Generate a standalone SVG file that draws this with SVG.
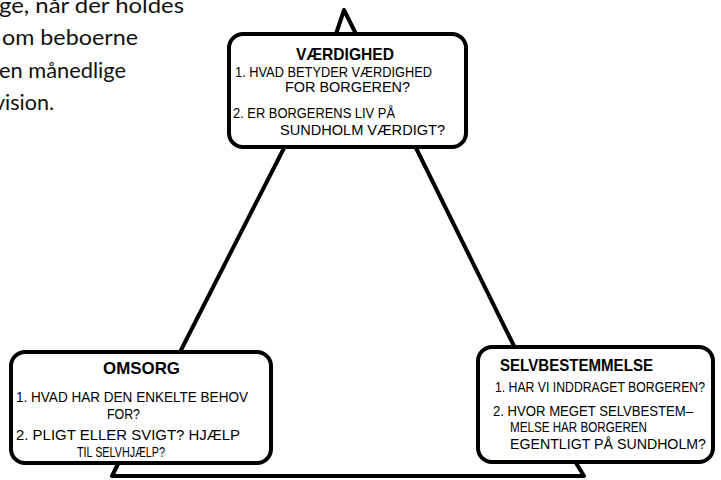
<svg xmlns="http://www.w3.org/2000/svg" width="721" height="480" viewBox="0 0 721 480">
<style>
.box{fill:#fff;stroke:#000;stroke-width:4;stroke-linejoin:round}
.ln{fill:none;stroke:#000;stroke-width:4;stroke-linecap:round;stroke-linejoin:round}
.t{font-family:"Liberation Sans",Arial,sans-serif;font-size:14px;fill:#000}
.h{font-family:"Liberation Sans",Arial,sans-serif;font-size:17px;font-weight:bold;fill:#000}
.p{font-family:Lato,"Open Sans",sans-serif;font-size:21px;fill:#111}
</style>
<rect width="721" height="480" fill="#fff"/>
<g id="paragraph">
<text class="p" x="-1" y="13" textLength="185" lengthAdjust="spacingAndGlyphs">ge, når der holdes</text>
<text class="p" x="2" y="45" textLength="136" lengthAdjust="spacingAndGlyphs">om beboerne</text>
<text class="p" x="-1" y="78" textLength="127" lengthAdjust="spacingAndGlyphs">en månedlige</text>
<text class="p" x="-6" y="110" textLength="60" lengthAdjust="spacingAndGlyphs">vision.</text>
</g>
<g id="connectors">
<path class="ln" d="M336,34 L344,10 L356,34"/>
<path class="ln" d="M284,148 L180,352"/>
<path class="ln" d="M416,148 L515,348"/>
<path class="ln" d="M118,464 L112,476 L584,476 L576,463"/>
</g>
<g id="vaerdighed">
<rect class="box" x="229" y="34" width="237" height="113" rx="14"/>
<text class="h" x="345" y="60" text-anchor="middle" textLength="98" lengthAdjust="spacingAndGlyphs">VÆRDIGHED</text>
<text class="t" x="235" y="77" textLength="197" lengthAdjust="spacingAndGlyphs">1. HVAD BETYDER VÆRDIGHED</text>
<text class="t" x="285" y="92" textLength="125" lengthAdjust="spacingAndGlyphs">FOR BORGEREN?</text>
<text class="t" x="233" y="118" textLength="162" lengthAdjust="spacingAndGlyphs">2. ER BORGERENS LIV PÅ</text>
<text class="t" x="280" y="135" textLength="165" lengthAdjust="spacingAndGlyphs">SUNDHOLM VÆRDIGT?</text>
</g>
<g id="omsorg">
<rect class="box" x="11" y="352" width="260" height="111" rx="14"/>
<text class="h" x="103" y="374" textLength="77" lengthAdjust="spacingAndGlyphs">OMSORG</text>
<text class="t" x="16" y="402" textLength="232" lengthAdjust="spacingAndGlyphs">1. HVAD HAR DEN ENKELTE BEHOV</text>
<text class="t" x="107" y="419" textLength="33" lengthAdjust="spacingAndGlyphs">FOR?</text>
<text class="t" x="16" y="440" textLength="224" lengthAdjust="spacingAndGlyphs">2. PLIGT ELLER SVIGT? HJÆLP</text>
<text class="t" x="77" y="457" textLength="88" lengthAdjust="spacingAndGlyphs">TIL SELVHJÆLP?</text>
</g>
<g id="selvbestemmelse">
<rect class="box" x="478" y="347" width="235" height="115" rx="14"/>
<text class="h" x="500" y="371" textLength="153" lengthAdjust="spacingAndGlyphs">SELVBESTEMMELSE</text>
<text class="t" x="495" y="392" textLength="210" lengthAdjust="spacingAndGlyphs">1. HAR VI INDDRAGET BORGEREN?</text>
<text class="t" x="493" y="416" textLength="200" lengthAdjust="spacingAndGlyphs">2. HVOR MEGET SELVBESTEM–</text>
<text class="t" x="510" y="432" textLength="137" lengthAdjust="spacingAndGlyphs">MELSE HAR BORGEREN</text>
<text class="t" x="510" y="449" textLength="196" lengthAdjust="spacingAndGlyphs">EGENTLIGT PÅ SUNDHOLM?</text>
</g>
</svg>
